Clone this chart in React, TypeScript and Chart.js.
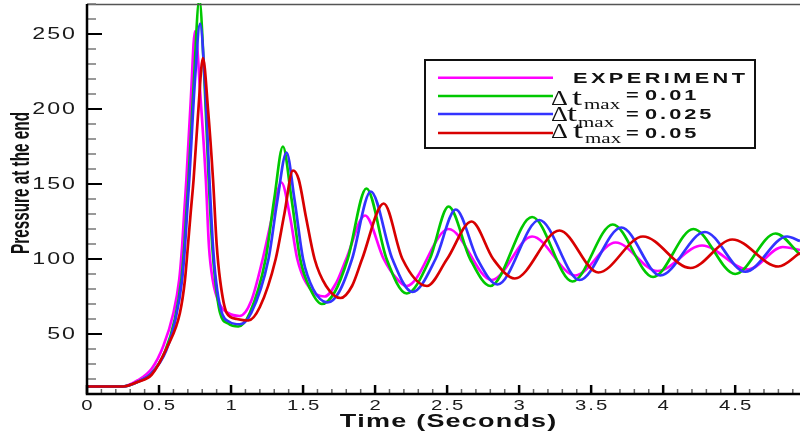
import { useEffect, useRef } from 'react';
import { Chart, registerables } from 'chart.js';

Chart.register(...registerables);

// ---- data ----
const expT = [0, 0.25, 0.35, 0.45, 0.53, 0.6, 0.64, 0.66, 0.675, 0.69, 0.72, 0.75, 0.79, 0.825, 0.847, 0.873, 0.92, 0.98, 1.06, 1.14, 1.22, 1.29, 1.35, 1.41, 1.46, 1.55, 1.65, 1.73, 1.8, 1.93, 2.06, 2.14, 2.22, 2.51, 2.81, 3.09, 3.39, 3.67, 3.96, 4.27, 4.59, 4.83, 4.95];
const expP = [15, 15, 19, 27, 42, 64, 86, 108, 131, 153, 205, 252, 205, 153, 108, 86, 70, 64, 62, 72, 100, 130, 151, 128, 100, 80, 75, 84, 100, 129, 100, 88, 82, 120, 86, 115, 89, 111, 92, 109, 93, 108, 106];

const dt001T = [0, 0.25, 0.35, 0.45, 0.54, 0.61, 0.655, 0.675, 0.69, 0.705, 0.74, 0.78, 0.815, 0.845, 0.87, 0.89, 0.924, 0.98, 1.05, 1.13, 1.24, 1.3, 1.36, 1.42, 1.48, 1.55, 1.63, 1.72, 1.81, 1.94, 2.08, 2.22, 2.38, 2.51, 2.66, 2.8, 3.09, 3.37, 3.65, 3.93, 4.21, 4.5, 4.78, 4.95];
const dt001P = [15, 15, 18, 24, 38, 60, 86, 108, 131, 153, 215, 273, 220, 153, 108, 86, 64, 57, 55, 64, 100, 140, 175, 140, 100, 80, 70, 78, 100, 147, 100, 77, 100, 135, 100, 82, 128, 85, 123, 88, 120, 90, 117, 103];

const dt0025T = [0, 0.25, 0.35, 0.45, 0.55, 0.615, 0.66, 0.68, 0.695, 0.71, 0.75, 0.785, 0.82, 0.85, 0.875, 0.895, 0.93, 0.99, 1.06, 1.14, 1.26, 1.32, 1.385, 1.44, 1.5, 1.57, 1.67, 1.75, 1.84, 1.97, 2.12, 2.26, 2.42, 2.56, 2.71, 2.85, 3.14, 3.42, 3.71, 3.98, 4.29, 4.57, 4.86, 4.95];
const dt0025P = [15, 15, 18, 24, 39, 60, 86, 108, 131, 153, 220, 257, 215, 153, 108, 86, 66, 58, 56.5, 64, 100, 138, 171, 140, 100, 80, 71, 78, 100, 145, 100, 78, 100, 133, 100, 83, 126, 86, 121, 89, 118, 91.5, 115, 112];

const dt005T = [0, 0.25, 0.35, 0.45, 0.56, 0.645, 0.68, 0.7, 0.72, 0.74, 0.77, 0.805, 0.84, 0.875, 0.9, 0.924, 0.97, 1.04, 1.12, 1.2, 1.31, 1.37, 1.43, 1.47, 1.52, 1.58, 1.66, 1.76, 1.84, 1.91, 2.06, 2.19, 2.36, 2.5, 2.67, 2.82, 2.97, 3.28, 3.55, 3.86, 4.19, 4.48, 4.8, 4.95];
const dt005P = [15, 15, 18, 23, 42, 64, 86, 108, 131, 153, 195, 234, 200, 153, 110, 86, 64, 60, 59, 68, 100, 130, 159, 153, 128, 100, 82, 74, 82, 100, 137, 100, 82, 100, 125, 100, 87, 119, 91, 115, 94, 113, 95, 104];

const xTickValues = [0, 0.5, 1, 1.5, 2, 2.5, 3, 3.5, 4, 4.5];
const xTickLabels = ['0', '0.5', '1', '1.5', '2', '2.5', '3', '3.5', '4', '4.5'];
const yTickValues = [50, 100, 150, 200, 250];
const yTickLabels = ['50', '100', '150', '200', '250'];

const seriesNames = ['EXPERIMENT', '0.01', '0.025', '0.05'];
const seriesColors = ['#ff00ff', '#00c800', '#3333ff', '#d80000'];

const SANS = '"Liberation Sans", Arial, sans-serif';
const SERIF = '"Liberation Serif", "Times New Roman", serif';

function drawText(
  ctx: CanvasRenderingContext2D,
  text: string,
  x: number,
  y: number,
  font: string,
  sx: number,
  spacing: number,
  align: 'left' | 'center' | 'right',
  baseline: CanvasTextBaseline = 'alphabetic',
  color = '#111'
) {
  ctx.save();
  ctx.font = font;
  ctx.fillStyle = color;
  ctx.textBaseline = baseline;
  ctx.textAlign = 'left';
  const chars = Array.from(text);
  const widths = chars.map((c) => ctx.measureText(c).width * sx);
  const total = widths.reduce((a, b) => a + b, 0) + spacing * (chars.length - 1);
  let cx = align === 'left' ? x : align === 'center' ? x - total / 2 : x - total;
  chars.forEach((c, i) => {
    ctx.save();
    ctx.translate(cx, y);
    ctx.scale(sx, 1);
    ctx.fillText(c, 0, 0);
    ctx.restore();
    cx += widths[i] + spacing;
  });
  ctx.restore();
}

const decor = {
  id: 'decor',
  afterDraw(chart: any) {
    const { ctx, chartArea: ca, scales } = chart;
    const xs = scales.x;
    const ys = scales.y;
    ctx.save();
    // top frame line
    ctx.strokeStyle = '#555';
    ctx.lineWidth = 1.5;
    ctx.beginPath();
    ctx.moveTo(ca.left, ca.top + 0.5);
    ctx.lineTo(ca.right, ca.top + 0.5);
    ctx.stroke();
    // y ticks (inward)
    for (let v = 10; v <= 270; v += 10) {
      const py = ys.getPixelForValue(v);
      const major = v % 50 === 0;
      ctx.strokeStyle = major ? '#000' : '#777';
      ctx.lineWidth = major ? 2 : 1.5;
      ctx.beginPath();
      ctx.moveTo(ca.left, py);
      ctx.lineTo(ca.left + (major ? 15 : 9), py);
      ctx.stroke();
    }
    // x ticks (inward)
    for (let i = 0; i <= 49; i++) {
      const px = xs.getPixelForValue(i / 10);
      const major = i % 5 === 0;
      ctx.strokeStyle = major ? '#000' : '#666';
      ctx.lineWidth = major ? 2.5 : 1.5;
      ctx.beginPath();
      ctx.moveTo(px, ca.bottom);
      ctx.lineTo(px, ca.bottom - (major ? 9 : 5));
      ctx.stroke();
    }
    // axes
    ctx.strokeStyle = '#000';
    ctx.lineWidth = 2.5;
    ctx.beginPath();
    ctx.moveTo(ca.left, ca.top);
    ctx.lineTo(ca.left, ca.bottom);
    ctx.lineTo(ca.right, ca.bottom);
    ctx.stroke();
    ctx.restore();

    // tick labels
    yTickValues.forEach((v, i) => {
      drawText(ctx, yTickLabels[i], 75, ys.getPixelForValue(v) + 0.5, `16px ${SANS}`, 1.45, 2, 'right', 'middle', '#1a1a1a');
    });
    xTickValues.forEach((v, i) => {
      drawText(ctx, xTickLabels[i], xs.getPixelForValue(v), 410, `14px ${SANS}`, 1.45, 2, 'center', 'alphabetic', '#1a1a1a');
    });

    // axis titles
    drawText(ctx, 'Time (Seconds)', 448, 427, `bold 18px ${SANS}`, 1.5, 1.2, 'center');
    ctx.save();
    ctx.translate(29, 183);
    ctx.rotate(-Math.PI / 2);
    ctx.scale(0.85, 1.45);
    ctx.font = `bold 18px ${SANS}`;
    ctx.fillStyle = '#111';
    ctx.textAlign = 'center';
    ctx.textBaseline = 'alphabetic';
    ctx.fillText('Pressure at the end', 0, 0);
    ctx.restore();

    // legend
    ctx.save();
    ctx.strokeStyle = '#111';
    ctx.lineWidth = 2;
    ctx.strokeRect(425, 60, 330, 88);
    const lineY = [77.7, 96, 114, 133];
    seriesColors.forEach((c, i) => {
      ctx.strokeStyle = c;
      ctx.lineWidth = 2.5;
      ctx.beginPath();
      ctx.moveTo(438, lineY[i]);
      ctx.lineTo(553, lineY[i]);
      ctx.stroke();
    });
    ctx.restore();
    drawText(ctx, seriesNames[0], 573, 82.5, `bold 15px ${SANS}`, 1.45, 3.4, 'left');
    const eqBase = [100, 118.5, 138];
    const dBase = [105, 120.5, 138];
    const tX = [572, 567, 573];
    const maxX = [584, 578, 585];
    const maxBase = [108.5, 126.5, 143];
    for (let i = 0; i < 3; i++) {
      drawText(ctx, '\u0394', 551, dBase[i], `21px ${SERIF}`, 1.25, 0, 'left');
      drawText(ctx, 't', tX[i], dBase[i], `24px ${SERIF}`, 1.5, 0, 'left');
      drawText(ctx, 'max', maxX[i], maxBase[i], `15px ${SERIF}`, 1.4, 0, 'left');
      drawText(ctx, '=', 626, eqBase[i], `bold 15px ${SANS}`, 1.45, 0, 'left');
      drawText(ctx, seriesNames[i + 1], 645, eqBase[i], `bold 15px ${SANS}`, 1.45, 3, 'left');
    }
  },
};

function toPoints(t: number[], p: number[]) {
  return t.map((x, i) => ({ x, y: p[i] }));
}

export default function App() {
  const ref = useRef<HTMLCanvasElement>(null);
  useEffect(() => {
    const seriesT = [expT, dt001T, dt0025T, dt005T];
    const seriesP = [expP, dt001P, dt0025P, dt005P];
    const chart = new Chart(ref.current as HTMLCanvasElement, {
      type: 'line',
      data: {
        datasets: seriesNames.map((name, i) => ({
          label: name,
          data: toPoints(seriesT[i], seriesP[i]),
          borderColor: seriesColors[i],
          backgroundColor: seriesColors[i],
          borderWidth: 2.7,
          pointRadius: 0,
          fill: false,
          cubicInterpolationMode: 'monotone' as const,
          order: 4 - i,
          clip: 1,
        })),
      },
      options: {
        animation: false,
        responsive: false,
        maintainAspectRatio: false,
        layout: { padding: { top: 4, right: 0, left: 0, bottom: 0 } },
        plugins: { legend: { display: false }, tooltip: { enabled: false } },
        scales: {
          x: {
            type: 'linear',
            min: 0,
            max: 4.95,
            grid: { display: false, drawTicks: false },
            border: { display: false },
            ticks: { display: false },
            afterFit: (s: any) => {
              s.height = 41;
            },
          },
          y: {
            type: 'linear',
            min: 10,
            max: 270,
            grid: { display: false, drawTicks: false },
            border: { display: false },
            ticks: { display: false },
            afterFit: (s: any) => {
              s.width = 87;
            },
          },
        },
      },
      plugins: [decor],
    });
    return () => chart.destroy();
  }, []);
  return (
    <div style={{ position: 'fixed', left: 0, top: 0, width: 800, height: 435, background: '#fff' }}>
      <canvas ref={ref} width={800} height={435} style={{ display: 'block' }} />
    </div>
  );
}
